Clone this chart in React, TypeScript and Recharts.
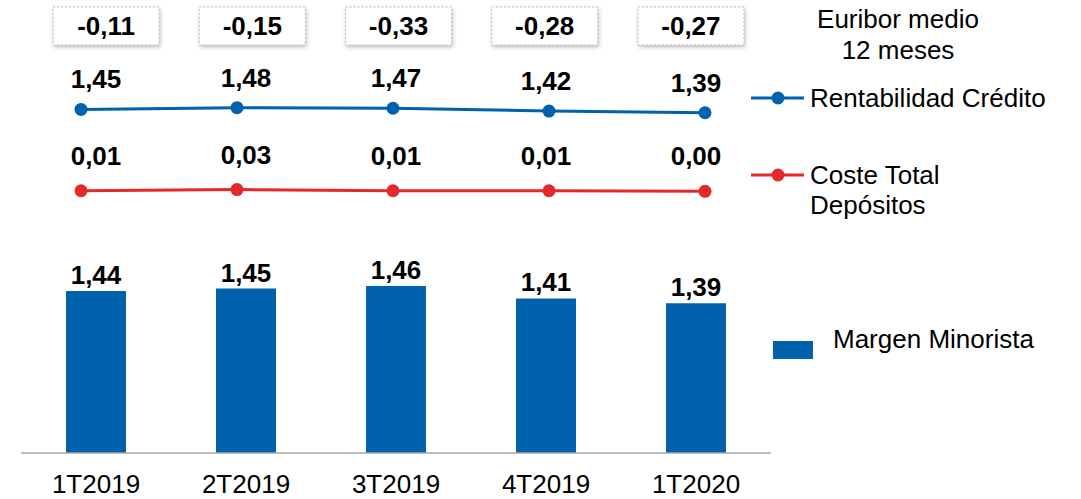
import { ComposedChart, Bar, Line, XAxis, YAxis, LabelList, Legend } from 'recharts';

const quarters = ['1T2019', '2T2019', '3T2019', '4T2019', '1T2020'];
const euribor = [-0.11, -0.15, -0.33, -0.28, -0.27];
const rentabilidad = [1.45, 1.48, 1.47, 1.42, 1.39];
const coste = [0.01, 0.03, 0.01, 0.01, 0.0];
const margen = [1.44, 1.45, 1.46, 1.41, 1.39];

const data = quarters.map((q, i) => ({
  q,
  eur: euribor[i],
  rent: rentabilidad[i],
  coste: coste[i],
  margen: margen[i],
}));

const BLUE = '#0062AC';
const RED = '#E4292B';
const FONT = '"Liberation Sans", Arial, sans-serif';

const fmt = (v: any) => Number(v).toFixed(2).replace('.', ',');

// euribor boxes drawn as ticks of a top axis
const EurTick = ({ x, y, payload }: any) => (
  <g>
    <rect
      x={x - 53}
      y={y - 43}
      width={106}
      height={38}
      fill="#fff"
      stroke="#BFBFBF"
      strokeDasharray="2 2"
      style={{ filter: 'drop-shadow(1px 2px 2px rgba(0,0,0,0.25))' }}
    />
    <text x={x} y={y - 14.7} textAnchor="middle" fontSize={26} fontWeight="bold" fill="#000">
      {fmt(payload.value)}
    </text>
  </g>
);

const LegendBox = ({ payload }: any) => {
  const byKey: any = {};
  (payload || []).forEach((p: any) => {
    if (p.type === 'none' || p.color === 'none') return;
    if (!byKey[p.dataKey]) byKey[p.dataKey] = p;
  });
  const rent = byKey.rent || { color: BLUE, value: 'Rentabilidad Crédito' };
  const cost = byKey.coste || { color: RED, value: 'Coste Total Depósitos' };
  const marg = byKey.margen || { color: BLUE, value: 'Margen Minorista' };
  const costWords = String(cost.value).split(' ');
  return (
    <svg width={341} height={499} style={{ fontFamily: FONT, display: 'block' }}>
      <text x={158} y={28} textAnchor="middle" fontSize={26} fill="#000">Euribor medio</text>
      <text x={158} y={59} textAnchor="middle" fontSize={26} fill="#000">12 meses</text>

      <line x1={11} x2={64} y1={98} y2={98} stroke={rent.color} strokeWidth={3} />
      <circle cx={38} cy={98} r={6.5} fill={rent.color} />
      <text x={70} y={107} fontSize={26} fill="#000">{rent.value}</text>

      <line x1={11} x2={64} y1={175} y2={175} stroke={cost.color} strokeWidth={3} />
      <circle cx={38} cy={175} r={6.5} fill={cost.color} />
      <text x={70} y={184} fontSize={26} fill="#000">{costWords.slice(0, 2).join(' ')}</text>
      <text x={70} y={214} fontSize={26} fill="#000">{costWords.slice(2).join(' ')}</text>

      <rect x={33} y={341} width={40} height={18} fill={marg.color} />
      <text x={93} y={348} fontSize={26} fill="#000">{marg.value}</text>
    </svg>
  );
};

export default function App() {
  return (
    <div style={{ position: 'absolute', left: 0, top: 0, width: 1081, height: 499, background: '#fff' }}>
      <ComposedChart
        width={1081}
        height={499}
        data={data}
        margin={{ top: 0, right: 310, bottom: 0, left: 21 }}
        style={{ fontFamily: FONT }}
      >
        <XAxis
          xAxisId="bar"
          dataKey="q"
          height={46}
          tickLine={false}
          tickSize={0}
          tickMargin={22}
          interval={0}
          axisLine={{ stroke: '#A6A6A6', strokeWidth: 1.5 }}
          tick={{ fill: '#000', fontSize: 26 }}
        />
        <XAxis xAxisId="line" dataKey="q" hide padding={{ left: -18, right: -12 }} />
        <XAxis
          xAxisId="eur"
          dataKey="eur"
          orientation="top"
          height={50}
          axisLine={false}
          tickLine={false}
          tickSize={0}
          tickMargin={0}
          interval={0}
          padding={{ left: 12, right: 7 }}
          tick={<EurTick />}
        />
        <YAxis yAxisId="bar" hide type="number" domain={[0.784, 2.416]} allowDataOverflow />
        <YAxis yAxisId="line" hide type="number" domain={[-4.632, 2.501]} allowDataOverflow />

        <Legend
          layout="horizontal"
          verticalAlign="middle"
          align="center"
          wrapperStyle={{ left: 740, top: 0, width: 341, height: 499 }}
          content={<LegendBox />}
        />

        <Bar
          xAxisId="bar"
          yAxisId="bar"
          dataKey="margen"
          name="Margen Minorista"
          fill={BLUE}
          barSize={60}
          isAnimationActive={false}
        >
          <LabelList dataKey="margen" position="top" offset={7} formatter={fmt} fill="#000" fontSize={26} fontWeight="bold" />
        </Bar>

        <Line
          xAxisId="line"
          yAxisId="line"
          dataKey="rent"
          name="Rentabilidad Crédito"
          stroke={BLUE}
          strokeWidth={3}
          dot={{ r: 6.5, fill: BLUE, stroke: BLUE, strokeWidth: 0 }}
          activeDot={false}
          isAnimationActive={false}
        />
        <Line
          xAxisId="line"
          yAxisId="line"
          dataKey="coste"
          name="Coste Total Depósitos"
          stroke={RED}
          strokeWidth={3}
          dot={{ r: 6.5, fill: RED, stroke: RED, strokeWidth: 0 }}
          activeDot={false}
          isAnimationActive={false}
        />

        {/* value labels of the lines sit over the category centres */}
        <Line
          xAxisId="bar"
          yAxisId="line"
          dataKey="rent"
          stroke="none"
          dot={false}
          activeDot={false}
          legendType="none"
          isAnimationActive={false}
        >
          <LabelList dataKey="rent" position="top" offset={21} formatter={fmt} fill="#000" fontSize={26} fontWeight="bold" />
        </Line>
        <Line
          xAxisId="bar"
          yAxisId="line"
          dataKey="coste"
          stroke="none"
          dot={false}
          activeDot={false}
          legendType="none"
          isAnimationActive={false}
        >
          <LabelList dataKey="coste" position="top" offset={26} formatter={fmt} fill="#000" fontSize={26} fontWeight="bold" />
        </Line>
      </ComposedChart>
    </div>
  );
}
